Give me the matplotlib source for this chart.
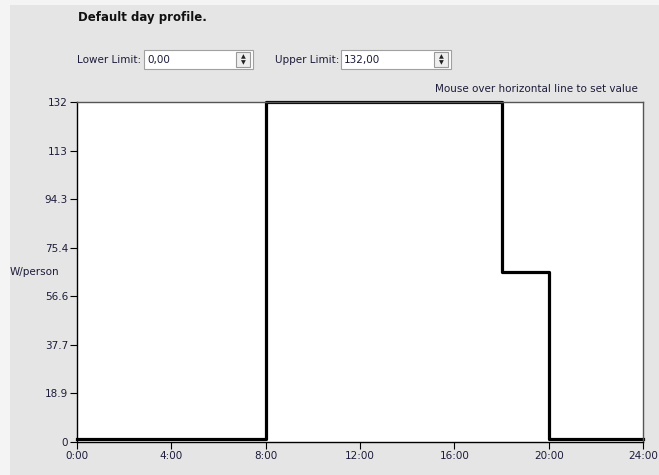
import matplotlib.pyplot as plt
from matplotlib.patches import Rectangle

# day profile values (W/person), step changes at these hours
hours = [0, 8, 18, 20, 24]
values = [1, 132, 66, 1]

y_ticks = [0, 18.9, 37.7, 56.6, 75.4, 94.3, 113, 132]
y_labels = ['0', '18.9', '37.7', '56.6', '75.4', '94.3', '113', '132']
x_ticks = [0, 4, 8, 12, 16, 20, 24]
x_labels = ['0:00', '4:00', '8:00', '12:00', '16:00', '20:00', '24:00']

lower_limit = '0,00'
upper_limit = '132,00'

W, H = 659, 475
panel = '#e5e5e5'
text_col = '#1c1c3a'
fs = 7.5

fig = plt.figure(figsize=(W / 100, H / 100), dpi=100, facecolor='#f4f4f4')

# background overlay in pixel coordinates for the dialog widgets
bg = fig.add_axes([0, 0, 1, 1])
bg.set_xlim(0, W)
bg.set_ylim(H, 0)
bg.axis('off')
bg.add_patch(Rectangle((10, 5), W - 10, H - 5, facecolor=panel, edgecolor='none'))

bg.text(78, 18, 'Default day profile.', fontsize=8.5, fontweight='bold',
        color='#111111', va='center', ha='left')


def spin_box(x0, x1, label_x, label, value):
    bg.text(label_x, 60, label, fontsize=fs, color=text_col, va='center', ha='left')
    bg.add_patch(Rectangle((x0, 50), x1 - x0, 19, facecolor='white', edgecolor='#a0a0a0', lw=0.8))
    bg.text(x0 + 3, 60, value, fontsize=fs, color=text_col, va='center', ha='left')
    bg.add_patch(Rectangle((x1 - 17, 52), 14, 15, facecolor='#eeeeee', edgecolor='#9a9a9a', lw=0.8))
    bg.text(x1 - 10, 56.5, '\u25b2', fontsize=4.5, color='#222222', ha='center', va='center')
    bg.text(x1 - 10, 63, '\u25bc', fontsize=4.5, color='#222222', ha='center', va='center')


spin_box(144, 253, 77, 'Lower Limit:', lower_limit)
spin_box(341, 451, 275, 'Upper Limit:', upper_limit)

bg.text(638, 89, 'Mouse over horizontal line to set value', fontsize=fs,
        color=text_col, va='center', ha='right')
bg.text(10, 272, 'W/person', fontsize=fs, color=text_col, va='center', ha='left')

# the profile chart
ax = fig.add_axes([77 / W, 33 / H, 566 / W, 340 / H])
ax.set_facecolor('white')
ax.step(hours, values + [values[-1]], where='post', color='black', lw=2.3, clip_on=False)
ax.set_xlim(0, 24)
ax.set_ylim(0, 132)
ax.set_xticks(x_ticks)
ax.set_xticklabels(x_labels)
ax.set_yticks(y_ticks)
ax.set_yticklabels(y_labels)
ax.tick_params(labelsize=fs, labelcolor=text_col, length=5, width=0.8, pad=1.5)
for side in ['left', 'bottom']:
    ax.spines[side].set_color('black')
    ax.spines[side].set_linewidth(1.0)
for side in ['top', 'right']:
    ax.spines[side].set_color('#555555')
    ax.spines[side].set_linewidth(1.0)

fig.savefig('out.png', dpi=100)
